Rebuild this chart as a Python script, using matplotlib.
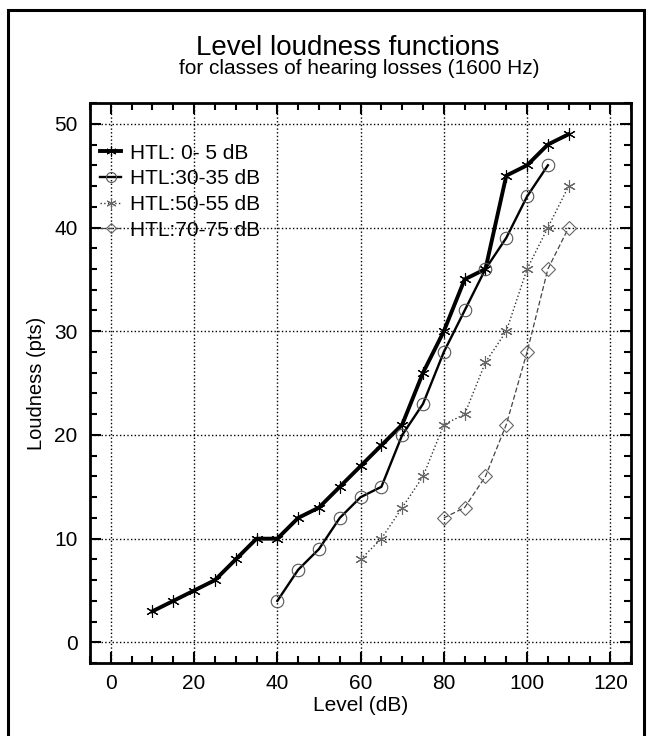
import matplotlib
matplotlib.use("Agg")
import matplotlib.pyplot as plt
from matplotlib.patches import Rectangle
from matplotlib.ticker import MultipleLocator

plt.rcParams['font.family'] = ['Liberation Sans', 'DejaVu Sans']

# data
lvl_0_5 = [10, 15, 20, 25, 30, 35, 40, 45, 50, 55, 60, 65, 70, 75, 80, 85, 90, 95, 100, 105, 110]
loud_0_5 = [3, 4, 5, 6, 8, 10, 10, 12, 13, 15, 17, 19, 21, 26, 30, 35, 36, 45, 46, 48, 49]

lvl_30_35 = [40, 45, 50, 55, 60, 65, 70, 75, 80, 85, 90, 95, 100, 105]
loud_30_35 = [4, 7, 9, 12, 14, 15, 20, 23, 28, 32, 36, 39, 43, 46]

lvl_50_55 = [60, 65, 70, 75, 80, 85, 90, 95, 100, 105, 110]
loud_50_55 = [8, 10, 13, 16, 21, 22, 27, 30, 36, 40, 44]

lvl_70_75 = [80, 85, 90, 95, 100, 105, 110]
loud_70_75 = [12, 13, 16, 21, 28, 36, 40]

labels = ['HTL: 0- 5 dB', 'HTL:30-35 dB', 'HTL:50-55 dB', 'HTL:70-75 dB']

fig = plt.figure(figsize=(6.5, 7.36), dpi=100)
ax = fig.add_axes([0.1385, 0.099, 0.8325, 0.761])

# outer frame around the whole figure (bottom edge runs off the page)
fig.patches.append(Rectangle((0.013, -0.05), 0.978, 1.036, transform=fig.transFigure,
                             fill=False, edgecolor='black', linewidth=2.2))

ax.plot(lvl_0_5, loud_0_5, color='black', linewidth=2.8, marker=(6, 2, 0),
        markersize=9, markeredgewidth=0.8, label=labels[0])
ax.plot(lvl_30_35, loud_30_35, color='black', linewidth=1.7, marker='o',
        markersize=9, markerfacecolor='none', markeredgecolor='#555555',
        markeredgewidth=0.8, label=labels[1])
ax.plot(lvl_50_55, loud_50_55, color='#333333', linewidth=1.0, linestyle=':',
        marker=(6, 2, 0), markersize=9, markeredgecolor='#666666',
        markeredgewidth=0.8, label=labels[2])
ax.plot(lvl_70_75, loud_70_75, color='#444444', linewidth=0.9, linestyle=(0, (4, 2)),
        marker='D', markersize=7, markerfacecolor='none', markeredgecolor='#666666',
        markeredgewidth=0.8, label=labels[3])

ax.set_xlim(-5, 125)
ax.set_ylim(-2, 52)
ax.xaxis.set_major_locator(MultipleLocator(20))
ax.xaxis.set_minor_locator(MultipleLocator(5))
ax.yaxis.set_major_locator(MultipleLocator(10))
ax.yaxis.set_minor_locator(MultipleLocator(2))
ax.tick_params(which='both', direction='in', top=True, right=True, labelsize=15, width=1.5)
ax.tick_params(which='major', length=8, pad=9)
ax.tick_params(axis='x', which='major', pad=8)
ax.tick_params(which='minor', length=5)
for s in ax.spines.values():
    s.set_linewidth(2)

ax.grid(True, which='major', color='black', linestyle=':', linewidth=1.0)

ax.set_xlabel('Level (dB)', fontsize=15, labelpad=2)
ax.set_ylabel('Loudness (pts)', fontsize=14.5, labelpad=6)

fig.text(0.535, 0.925, 'Level loudness functions', ha='center', fontsize=20)
fig.text(0.552, 0.899, 'for classes of hearing losses (1600 Hz)', ha='center', fontsize=15)

ax.legend(loc='upper left', bbox_to_anchor=(0.0, 0.946), frameon=False, fontsize=15,
          handlelength=1.0, handletextpad=0.4, labelspacing=0.32, borderaxespad=0.1,
          markerscale=0.8)

fig.savefig('out.png', dpi=100)
